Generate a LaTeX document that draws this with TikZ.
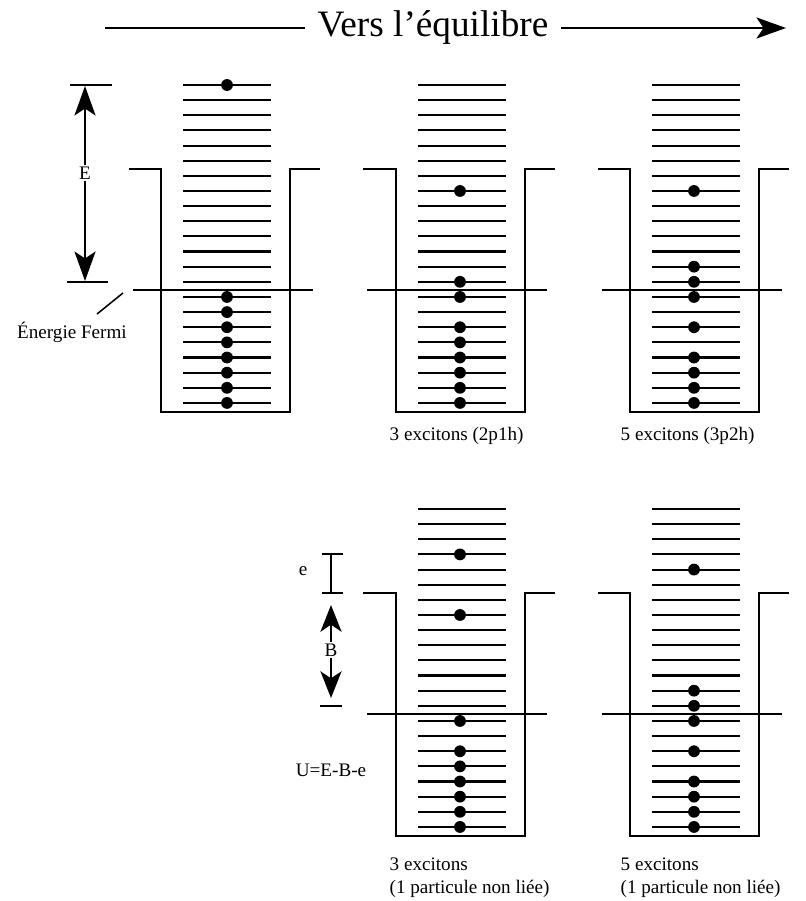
\documentclass[tikz,border=0pt]{standalone}
\usepackage{fontspec}
\setmainfont{Liberation Serif}
\usetikzlibrary{arrows.meta}

\begin{document}
\begin{tikzpicture}[
  x=0.025cm, y=-0.025cm,
  level/.style={line width=1.5pt},
  wall/.style={line width=1.5pt},
  fermi/.style={line width=1.1pt},
  electron/.style={circle, fill=black, inner sep=0pt, minimum size=8.4pt},
  lab/.style={font=\fontsize{13.6}{16.4}\selectfont, inner sep=1pt},
  title/.style={font=\fontsize{26.5}{30}\selectfont, inner xsep=9pt},
  bigarrow/.style={line width=1.5pt, -{Stealth[length=21pt, width=15pt, inset=5pt]}},
  smallarrow/.style={line width=1.5pt, -{Stealth[length=19pt, width=15pt, inset=5pt]}}
]
\useasboundingbox (0,0) rectangle (805,901);

% =======================
% Title
% =======================
\node[title] (title) at (433,28) {Vers l'équilibre};
\coordinate (Tstart) at (105,28);
\coordinate (Tend) at (786,28);
\draw[line width=1.4pt] (Tstart) -- (title.west);
\draw[bigarrow] (title.east) -- (Tend);

% =======================
% Panel 1: initial state
% =======================
\foreach \i in {0,...,21}
  \draw[level] (183,85+15.14*\i) -- (271,85+15.14*\i);
\draw[wall] (129,169) -- (161,169) -- (161,412) -- (290,412) -- (290,169) -- (320,169);
\draw[fermi] (133,290) -- (313,290);
\foreach \i in {0,14,15,...,21}
  \node[electron] (a\i) at (227,85+15.14*\i) {};

% E arrow
\node[lab] (E) at (85,173) {E};
\coordinate (Etop) at (85,86);
\coordinate (Ebot) at (85,281);
\draw[wall] (70,85) -- (112,85);
\draw[wall] (67,282) -- (108,282);
\draw[bigarrow] (E) -- (Etop);
\draw[bigarrow] (E) -- (Ebot);

% Fermi label
\node[lab] (efermi) at (72,332) {Énergie Fermi};
\coordinate (lead1) at (97,314);
\coordinate (lead2) at (123,293);
\draw[fermi] (lead1) -- (lead2);

% =======================
% Panel 2: 3 excitons
% =======================
\begin{scope}[shift={(235,0)}]
\foreach \i in {0,...,21}
  \draw[level] (183,85+15.14*\i) -- (271,85+15.14*\i);
\draw[wall] (128,169) -- (161,169) -- (161,412) -- (290,412) -- (290,169) -- (320,169);
\draw[fermi] (132,290) -- (312,290);
\foreach \i in {7,13,14,16,17,...,21}
  \node[electron] (b\i) at (225,85+15.14*\i) {};
\end{scope}
\node[lab, anchor=west] (capB) at (388,436) {3 excitons (2p1h)};

% =======================
% Panel 3: 5 excitons
% =======================
\begin{scope}[shift={(469,0)}]
\foreach \i in {0,...,21}
  \draw[level] (183,85+15.14*\i) -- (271,85+15.14*\i);
\draw[wall] (129,169) -- (161,169) -- (161,412) -- (290,412) -- (290,169) -- (320,169);
\draw[fermi] (133,290) -- (313,290);
\foreach \i in {7,12,13,14,16,18,19,20,21}
  \node[electron] (c\i) at (225,85+15.14*\i) {};
\end{scope}
\node[lab, anchor=west] (capC) at (619,436) {5 excitons (3p2h)};

% =======================
% Panel 4: 3 excitons, unbound
% =======================
\begin{scope}[shift={(235,424)}]
\foreach \i in {0,...,21}
  \draw[level] (183,85+15.14*\i) -- (271,85+15.14*\i);
\draw[wall] (128,169) -- (161,169) -- (161,412) -- (290,412) -- (290,169) -- (320,169);
\draw[fermi] (132,290) -- (312,290);
\foreach \i in {3,7,14,16,17,...,21}
  \node[electron] (d\i) at (225,85+15.14*\i) {};
\end{scope}
\node[lab, anchor=west, align=left] (capD) at (388,878) {3 excitons\\(1 particule non liée)};

% e and B markers
\node[lab] (e) at (303,571) {e};
\draw[wall] (322,554) -- (343,554);
\draw[wall] (331,554) -- (331,593);
\draw[wall] (322,593) -- (343,593);
\node[lab] (B) at (331,650) {B};
\coordinate (Btop) at (331,605);
\coordinate (Bbot) at (331,698);
\draw[smallarrow] (B) -- (Btop);
\draw[smallarrow] (B) -- (Bbot);
\draw[wall] (320,706) -- (342,706);
\node[lab] (U) at (331,770) {U=E-B-e};

% =======================
% Panel 5: 5 excitons, unbound
% =======================
\begin{scope}[shift={(469,424)}]
\foreach \i in {0,...,21}
  \draw[level] (183,85+15.14*\i) -- (271,85+15.14*\i);
\draw[wall] (129,169) -- (161,169) -- (161,412) -- (290,412) -- (290,169) -- (320,169);
\draw[fermi] (133,290) -- (313,290);
\foreach \i in {4,12,13,14,16,18,19,20,21}
  \node[electron] (f\i) at (225,85+15.14*\i) {};
\end{scope}
\node[lab, anchor=west, align=left] (capF) at (619,878) {5 excitons\\(1 particule non liée)};

\end{tikzpicture}
\end{document}
